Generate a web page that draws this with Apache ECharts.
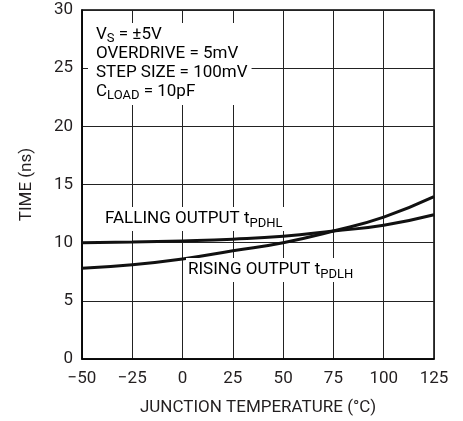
<!DOCTYPE html>
<html><head><meta charset="utf-8">
<script src="https://cdn.jsdelivr.net/npm/echarts@6/dist/echarts.min.js"></script>
<style>html,body{margin:0;padding:0;background:#fff}#c{width:463px;height:421px}</style>
</head><body><div id="c"></div>
<script>
// Data
const temperatures = [-50, -25, 0, 25, 50, 75, 100, 125];
const fallingTpdhl = [10.0, 10.05, 10.15, 10.3, 10.55, 11.0, 11.5, 12.4];
const risingTpdlh = [7.8, 8.1, 8.6, 9.3, 10.0, 11.0, 12.2, 13.95];
const xRange = [-50, 125, 25];
const yRange = [0, 30, 5];
const xTitle = 'JUNCTION TEMPERATURE (°C)';
const yTitle = 'TIME (ns)';

const FONT = 'Roboto, "Liberation Sans", sans-serif';
const TXT = '#231f20';
const chart = echarts.init(document.getElementById('c'));
const pairs = a => temperatures.map((t, i) => [t, a[i]]);
const sub = { fontFamily: FONT, fontSize: 13, color: TXT, padding: [9, 0, 0, 0] };
const main = { fontFamily: FONT, fontSize: 17, color: TXT };

chart.setOption({
  animation: false,
  backgroundColor: '#fff',
  grid: { left: 82, right: 29, top: 10, bottom: 61, show: true, borderColor: '#000', borderWidth: 1.5 },
  xAxis: {
    type: 'value', min: xRange[0], max: xRange[1], interval: xRange[2],
    name: xTitle, nameLocation: 'middle', nameGap: 40,
    nameTextStyle: { fontFamily: FONT, fontSize: 17, color: TXT },
    axisLine: { onZero: false, lineStyle: { color: '#000', width: 1.5 } },
    axisTick: { show: false },
    axisLabel: { fontFamily: FONT, fontSize: 17, color: TXT, margin: 11,
      formatter: v => String(v).replace('-', '\u2212') },
    splitLine: { lineStyle: { color: '#222', width: 1 } }
  },
  yAxis: {
    type: 'value', min: yRange[0], max: yRange[1], interval: yRange[2],
    name: yTitle, nameLocation: 'middle', nameGap: 47,
    nameTextStyle: { fontFamily: FONT, fontSize: 17, color: TXT },
    axisLine: { onZero: false, lineStyle: { color: '#000', width: 1.5 } },
    axisTick: { show: false },
    axisLabel: { fontFamily: FONT, fontSize: 17, color: TXT, margin: 9 },
    splitLine: { lineStyle: { color: '#222', width: 1 } }
  },
  series: [
    { name: 'FALLING OUTPUT tPDHL', type: 'line', smooth: true, showSymbol: false,
      lineStyle: { color: '#111', width: 3 }, data: pairs(fallingTpdhl), z: 3 },
    { name: 'RISING OUTPUT tPDLH', type: 'line', smooth: true, showSymbol: false,
      lineStyle: { color: '#111', width: 3 }, data: pairs(risingTpdlh), z: 3 }
  ],
  graphic: [
    { type: 'text', left: 88, top: 23, z: 10,
      style: { text: '{m|V}{s|S}{m| = ±5V}\n{m|OVERDRIVE = 5mV}\n{m|STEP SIZE = 100mV}\n{m|C}{s|LOAD}{m| = 10pF}',
        backgroundColor: '#fff', padding: [2, 4, 4, 8], lineHeight: 19,
        rich: { m: main, s: sub } } },
    { type: 'text', left: 103, top: 207, z: 10,
      style: { text: '{m|FALLING OUTPUT t}{s|PDHL}', backgroundColor: '#fff', padding: [1, 2, 1, 2],
        rich: { m: main, s: sub } } },
    { type: 'text', left: 186, top: 258, z: 10,
      style: { text: '{m|RISING OUTPUT t}{s|PDLH}', backgroundColor: '#fff', padding: [1, 2, 1, 2],
        rich: { m: main, s: sub } } }
  ]
});
</script></body></html>
